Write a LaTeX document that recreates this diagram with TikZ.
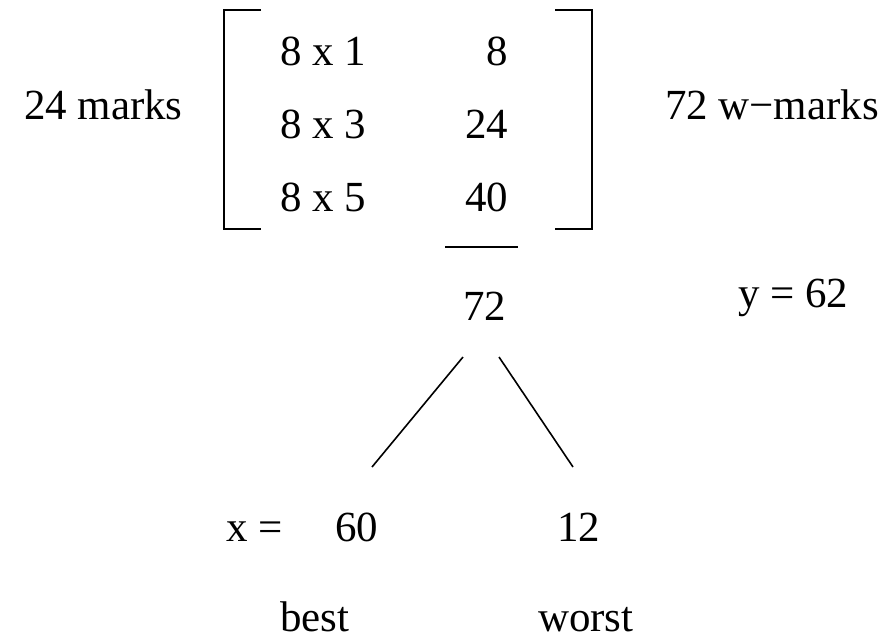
\documentclass[tikz,border=0pt]{standalone}
\usepackage{fontspec}
\setmainfont{Liberation Serif}
\begin{document}
\begin{tikzpicture}[x=0.75pt,y=-0.75pt,
  txt/.style={inner sep=0pt,outer sep=0pt,font=\fontsize{32.2pt}{38pt}\selectfont},
  ln/.style={line width=1.2pt,black}]
\useasboundingbox (0,0) rectangle (889,637);
% side labels
\node[txt,anchor=base west] (marks) at (24,119) {24 marks};
\node[txt,anchor=base west] (wmarks) at (665,119) {72 w−marks};
% matrix entries
\node[txt,anchor=base west] (r1) at (280,65) {8 x 1};
\node[txt,anchor=base west] (r2) at (280,138) {8 x 3};
\node[txt,anchor=base west] (r3) at (280,211) {8 x 5};
\node[txt,anchor=base east] (v1) at (508,65) {8};
\node[txt,anchor=base east] (v2) at (508,138) {24};
\node[txt,anchor=base east] (v3) at (508,211) {40};
% brackets
\draw[ln] (261,10) -- (224,10) -- (224,229) -- (261,229);
\draw[ln] (555,10) -- (592,10) -- (592,229) -- (555,229);
% sum line
\coordinate (sl) at (445,247);
\coordinate (sr) at (518,247);
\draw[ln] (sl) -- (sr);
\node[txt,anchor=base west] (sum) at (463,320) {72};
\node[txt,anchor=base west] (yv) at (738,307) {y = 62};
% tree
\coordinate (la) at (463,357);
\coordinate (lb) at (372,467);
\coordinate (ra) at (499,357);
\coordinate (rb) at (573,467);
\draw[ln] (la) -- (lb);
\draw[ln] (ra) -- (rb);
\node[txt,anchor=base west] (xeq) at (226,541) {x =};
\node[txt,anchor=base west] (best60) at (335,541) {60};
\node[txt,anchor=base west] (worst12) at (557,541) {12};
\node[txt,anchor=base west] (best) at (280,631) {best};
\node[txt,anchor=base west] (worst) at (538,631) {worst};
\end{tikzpicture}
\end{document}
